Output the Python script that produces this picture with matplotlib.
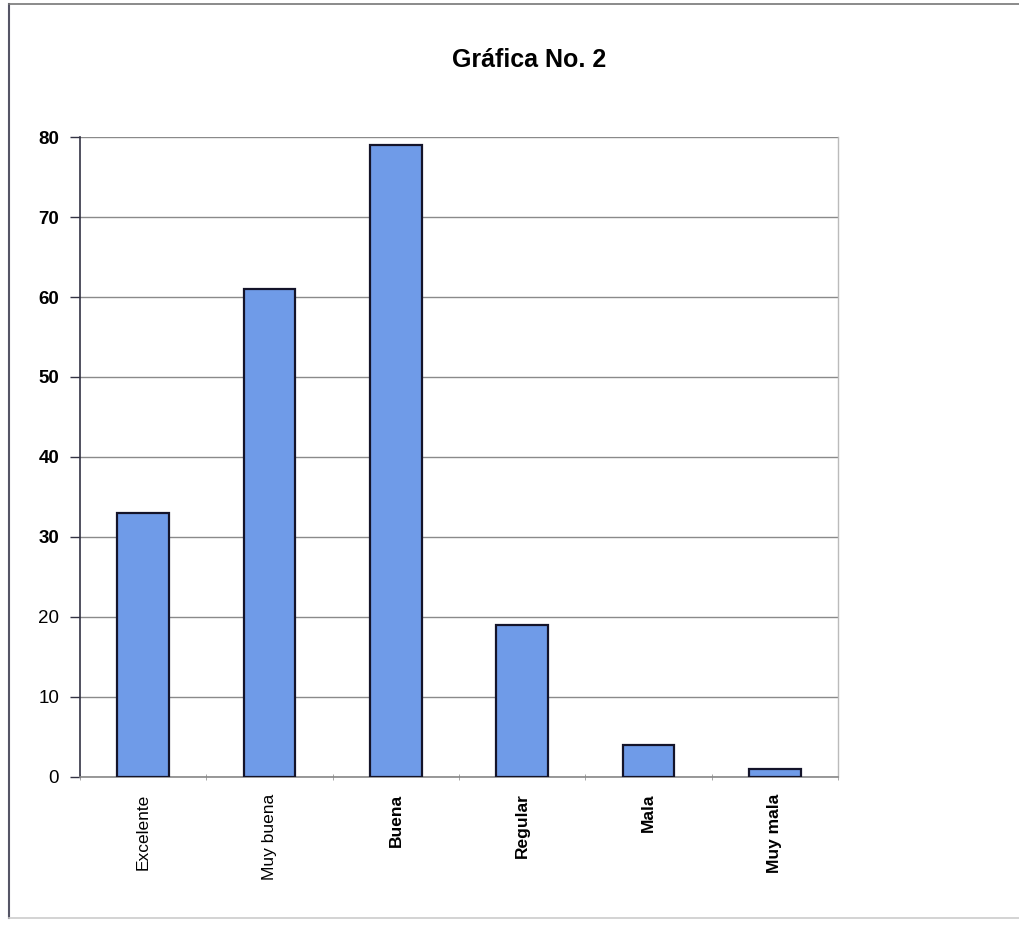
import matplotlib.pyplot as plt
import numpy as np
from matplotlib.lines import Line2D

# Data
categorias = ['Excelente', 'Muy buena', 'Buena', 'Regular', 'Mala', 'Muy mala']
valores = [33, 61, 79, 19, 4, 1]
y_ticks = [0, 10, 20, 30, 40, 50, 60, 70, 80]

plt.rcParams['font.family'] = ['Liberation Sans', 'DejaVu Sans']

fig = plt.figure(figsize=(10.19, 9.26), dpi=100)
ax = fig.add_axes([0.0785, 0.161, 0.744, 0.691])

x = np.arange(len(categorias))
ax.bar(x, valores, width=0.41, color='#6f9be8', edgecolor='#14142a', linewidth=1.6, zorder=3)

ax.set_xlim(-0.5, len(categorias) - 0.5)
ax.set_ylim(0, 80)

# Grid lines
ax.set_yticks(y_ticks)
ax.yaxis.grid(True, color='#8a8a8a', linewidth=1.0, zorder=0)
ax.set_axisbelow(True)

# Y tick labels
ax.set_yticklabels([str(t) for t in y_ticks])
for t, lbl in zip(y_ticks, ax.get_yticklabels()):
    lbl.set_fontsize(13.5)
    lbl.set_fontweight('bold' if t >= 30 else 'normal')
ax.tick_params(axis='y', length=7, width=1, color='#333344', pad=8)

# X tick labels
ax.set_xticks(x)
ax.set_xticklabels(categorias, rotation=90, fontsize=12.5)
for i, lbl in enumerate(ax.get_xticklabels()):
    lbl.set_fontweight('normal' if i < 2 else 'bold')
ax.tick_params(axis='x', length=0, pad=12)
ax.set_xticks(np.arange(len(categorias) + 1) - 0.5, minor=True)
ax.tick_params(axis='x', which='minor', length=4, color='#999999', direction='inout')

# Spines
ax.spines['top'].set_visible(False)
ax.spines['left'].set_color('#333344')
ax.spines['left'].set_linewidth(1.2)
ax.spines['bottom'].set_color('#888888')
ax.spines['bottom'].set_linewidth(1.2)
ax.spines['right'].set_color('#bbbbbb')
ax.spines['right'].set_linewidth(1.0)

# Title
fig.text(0.519, 0.935, 'Gráfica No. 2', ha='center', va='center',
         fontsize=18, fontweight='bold')

# Outer frame
fig.add_artist(Line2D([0.009, 0.009], [0.009, 0.996], color='#555566', linewidth=1.5))
fig.add_artist(Line2D([0.009, 1.0], [0.996, 0.996], color='#777777', linewidth=1.2))
fig.add_artist(Line2D([0.009, 1.0], [0.009, 0.009], color='#cccccc', linewidth=1.2))

plt.savefig('out.png', dpi=100)
